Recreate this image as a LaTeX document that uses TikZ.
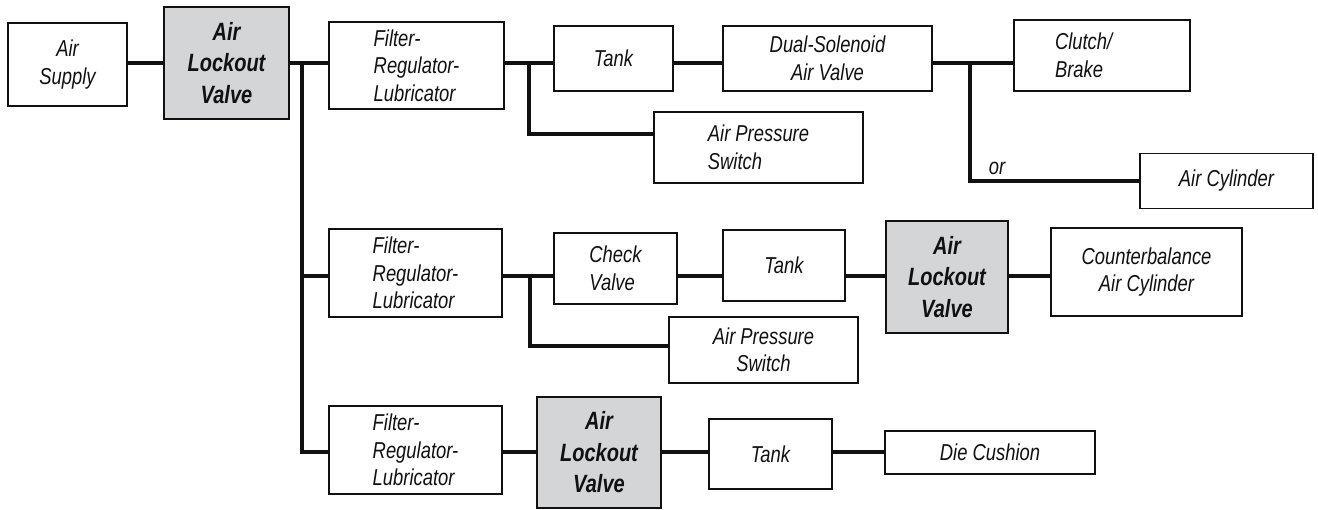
\documentclass[tikz,border=0pt]{standalone}
\usepackage{fontspec}
\usepackage{tikz}
\usetikzlibrary{backgrounds}
\setmainfont{Liberation Sans}
\newfontfamily\condfont[FakeStretch=0.8]{Liberation Sans}
\newfontfamily\lockfont[FakeStretch=0.8]{Liberation Sans}
\definecolor{ink}{HTML}{111111}
\definecolor{lockgray}{HTML}{D4D5D7}

\begin{document}
\begin{tikzpicture}[x=1pt,y=-1pt,
  box/.style={draw=ink,line width=1.4pt,fill=white,inner sep=0pt,align=left,text=ink,
    font=\condfont\itshape\fontsize{23}{27.5}\selectfont},
  lockbox/.style={box,fill=lockgray,align=center,
    font=\lockfont\bfseries\itshape\fontsize{25}{31.5}\selectfont},
  pipe/.style={draw=ink,line width=3.2pt},
  lab/.style={font=\condfont\itshape\fontsize{23}{25}\selectfont,text=ink,inner sep=0pt}]
\useasboundingbox (0,0) rectangle (1318,510);
% first line
\node[box,align=center,minimum width=119,minimum height=83] (supply) at (67.5,64.5) {Air\\Supply};
\node[lockbox,minimum width=125,minimum height=112] (alv1) at (226.5,63) {Air\\Lockout\\Valve};
\node[box,minimum width=175,minimum height=87] (frl1) at (416.5,65.5) {Filter-\\Regulator-\\Lubricator};
\node[box,minimum width=119,minimum height=65] (tank1) at (613.5,58.5) {Tank};
\node[box,align=center,minimum width=209,minimum height=65] (dsv) at (827.5,58.5) {Dual-Solenoid\\Air Valve};
\node[box,inner xsep=41,text width=94,minimum height=71] (clutch) at (1102,55.5) {Clutch/\\Brake};
\node[box,minimum width=209,minimum height=71] (aps1) at (758.5,147.5) {Air Pressure\\Switch};
\node[box,align=center,minimum width=173,minimum height=55] (aircyl) at (1226.5,181) {Air Cylinder};
\node[lab] (orlab) at (997,168) {or};
% second line
\node[box,minimum width=173,minimum height=88] (frl2) at (415.5,273) {Filter-\\Regulator-\\Lubricator};
\node[box,minimum width=123,minimum height=71] (check) at (615.5,268.5) {Check\\Valve};
\node[box,align=center,minimum width=122,minimum height=71] (tank2) at (784,265.5) {Tank};
\node[lockbox,minimum width=122,minimum height=112] (alv2) at (947,277) {Air\\Lockout\\Valve};
\node[box,align=center,minimum width=191,minimum height=88] (cb) at (1146.5,272) {Counterbalance\\Air Cylinder};
\node[box,align=center,minimum width=189,minimum height=66] (aps2) at (763.5,350) {Air Pressure\\Switch};
% third line
\node[box,minimum width=173,minimum height=88] (frl3) at (415.5,450) {Filter-\\Regulator-\\Lubricator};
\node[lockbox,minimum width=124,minimum height=111] (alv3) at (599,452.5) {Air\\Lockout\\Valve};
\node[box,align=center,minimum width=123,minimum height=70] (tank3) at (770.5,454) {Tank};
\node[box,align=center,minimum width=210,minimum height=43] (cushion) at (990,452.5) {Die Cushion};
% junctions
\coordinate (j1) at (302,63);
\coordinate (j2) at (529,63);
\coordinate (j2b) at (529,134);
\coordinate (j3) at (970,63);
\coordinate (r2) at (302,276);
\coordinate (j4) at (530,276);
\coordinate (j4b) at (530,346);
\coordinate (r3) at (302,452);
\begin{scope}[on background layer]
\draw[pipe] (supply.east |- alv1.west) -- (alv1.west);
\draw[pipe] (alv1.east) -- (frl1.west |- alv1.east);
\draw[pipe] (frl1.east |- j2) -- (tank1.west |- j2);
\draw[pipe] (tank1.east |- j2) -- (dsv.west |- j2);
\draw[pipe] (dsv.east |- j3) -- (clutch.west |- j3);
\draw[pipe,line join=miter] (j2) -- (j2b) -- (aps1.west |- j2b);
\draw[pipe,line join=miter] (j3) |- (aircyl.west);
\draw[pipe,line join=miter] (j1) -- (r3) -- (frl3.west |- r3);
\draw[pipe] (r2) -- (frl2.west |- r2);
\draw[pipe] (frl2.east |- r2) -- (check.west |- r2);
\draw[pipe] (check.east |- r2) -- (tank2.west |- r2);
\draw[pipe] (tank2.east |- r2) -- (alv2.west |- r2);
\draw[pipe] (alv2.east |- r2) -- (cb.west |- r2);
\draw[pipe,line join=miter] (j4) -- (j4b) -- (aps2.west |- j4b);
\draw[pipe] (frl3.east |- r3) -- (alv3.west |- r3);
\draw[pipe] (alv3.east |- r3) -- (tank3.west |- r3);
\draw[pipe] (tank3.east |- r3) -- (cushion.west |- r3);
\end{scope}
\end{tikzpicture}
\end{document}
